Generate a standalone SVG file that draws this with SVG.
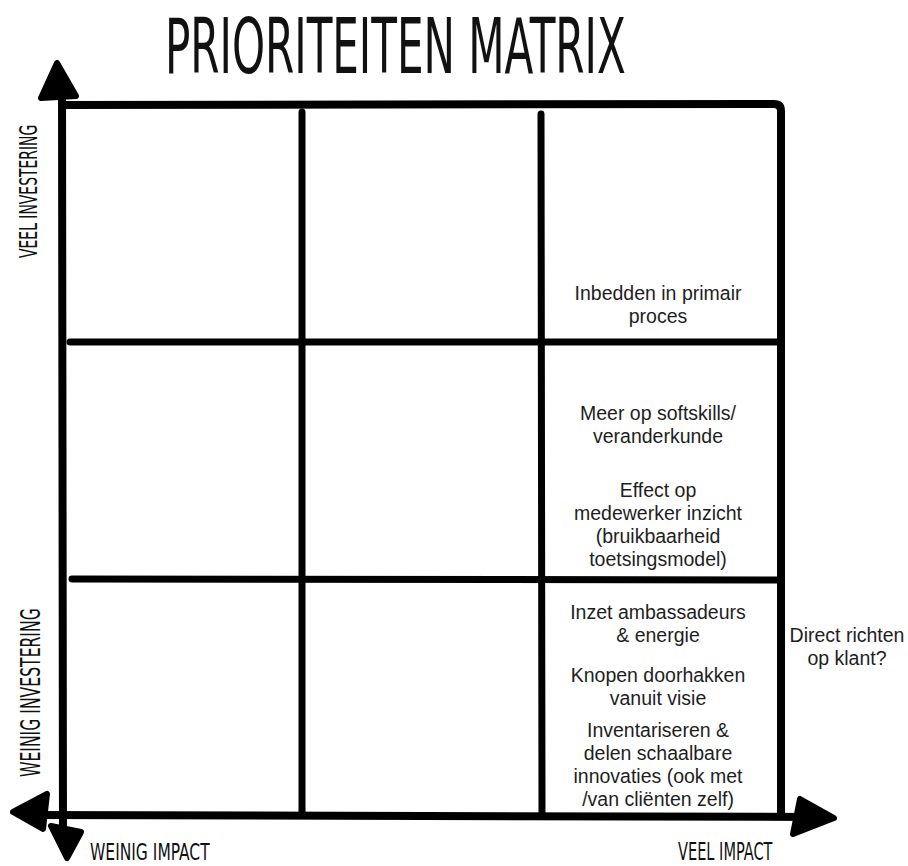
<svg xmlns="http://www.w3.org/2000/svg" width="908" height="866" viewBox="0 0 908 866">
<style>
.hand{font-family:"DejaVu Sans Condensed","DejaVu Sans","Liberation Sans",sans-serif;fill:#111}
.body{font-family:"Liberation Sans",Arial,sans-serif;font-size:19.5px;fill:#1e1e1e;text-anchor:middle}
.ln{stroke:#000;stroke-width:8;stroke-linecap:round;fill:none}
.thin{stroke:#000;stroke-width:7;stroke-linecap:round;fill:none}
.head{fill:#000;stroke:#000;stroke-width:6;stroke-linejoin:round}
</style>
<rect width="908" height="866" fill="#fff"/>
<g id="title">
<text class="hand" transform="translate(165,73) scale(0.615,1)" font-size="76">PRIORITEITEN MATRIX</text>
</g>
<g id="connectors">
<line class="ln" x1="62" y1="80" x2="63" y2="845"/>
<line class="ln" x1="25" y1="815" x2="815" y2="817"/>
<path class="ln" d="M62 105 L774 104 Q781 104 781 111 L781 816"/>
<line class="thin" x1="302" y1="112" x2="302" y2="815"/>
<line class="thin" x1="541" y1="114" x2="542" y2="815"/>
<line class="thin" x1="70" y1="342" x2="780" y2="342"/>
<line class="thin" x1="72" y1="579" x2="780" y2="580"/>
<polygon class="head" points="57,63 41,98 76,96"/>
<polygon class="head" points="13,812 47,794 43,829"/>
<polygon class="head" points="51,826 81,832 67,858"/>
<polygon class="head" points="834,818 800,799 793,834"/>
</g>
<g id="label-veel-investering">
<text class="hand" transform="translate(37,258) rotate(-90) scale(0.62,1)" font-size="25">VEEL INVESTERING</text>
</g>
<g id="label-weinig-investering">
<text class="hand" transform="translate(40,777) rotate(-90) scale(0.644,1)" font-size="27">WEINIG INVESTERING</text>
</g>
<g id="label-weinig-impact">
<text class="hand" transform="translate(90,860) scale(0.75,1)" font-size="23">WEINIG IMPACT</text>
</g>
<g id="label-veel-impact">
<text class="hand" transform="translate(678,860) scale(0.675,1)" font-size="24">VEEL IMPACT</text>
</g>
<g id="cell-top-right">
<text class="body" x="658" y="300">Inbedden in primair</text>
<text class="body" x="658" y="323">proces</text>
</g>
<g id="cell-mid-right">
<text class="body" x="658" y="420">Meer op softskills/</text>
<text class="body" x="658" y="443">veranderkunde</text>
<text class="body" x="658" y="497">Effect op</text>
<text class="body" x="658" y="520">medewerker inzicht</text>
<text class="body" x="658" y="543">(bruikbaarheid</text>
<text class="body" x="658" y="566">toetsingsmodel)</text>
</g>
<g id="cell-bottom-right">
<text class="body" x="658" y="619">Inzet ambassadeurs</text>
<text class="body" x="658" y="642">&amp; energie</text>
<text class="body" x="658" y="682">Knopen doorhakken</text>
<text class="body" x="658" y="705">vanuit visie</text>
<text class="body" x="658" y="737">Inventariseren &amp;</text>
<text class="body" x="658" y="760">delen schaalbare</text>
<text class="body" x="658" y="783">innovaties (ook met</text>
<text class="body" x="658" y="806">/van cliënten zelf)</text>
</g>
<g id="note-outside">
<text class="body" x="847" y="642">Direct richten</text>
<text class="body" x="847" y="665">op klant?</text>
</g>
</svg>
